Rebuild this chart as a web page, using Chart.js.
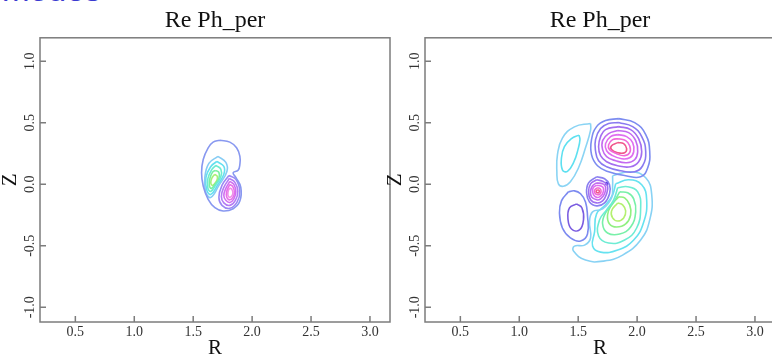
<!DOCTYPE html>
<html>
<head>
<meta charset="utf-8">
<script src="https://cdn.jsdelivr.net/npm/chart.js@4.4.0/dist/chart.umd.min.js"></script>
<style>
  body { margin: 0; width: 772px; height: 358px; overflow: hidden; background: #fff; position: relative; }
  .panel { position: absolute; top: 0; width: 392px; height: 358px; }
  #left { left: 0; }
  #right { left: 385px; }
  #banner { position: absolute; left: 2px; top: -26px; font: 33px "Liberation Sans", Arial, sans-serif; line-height: 32px; color: #3a3ad0; white-space: nowrap; }
</style>
</head>
<body>
<div id="banner">modes</div>
<div class="panel" id="left"><canvas id="leftChart" width="392" height="358"></canvas></div>
<div class="panel" id="right"><canvas id="rightChart" width="392" height="358"></canvas></div>
<script>
// axis ticks
const rTicks = [0.5, 1.0, 1.5, 2.0, 2.5, 3.0];
const zTicks = [-1.0, -0.5, 0.0, 0.5, 1.0];

// ---- left panel contours, [R, Z] ----
const leftOuter = [[1.726,0.358],[1.811,0.342],[1.868,0.296],[1.896,0.228],[1.896,0.161],[1.881,0.114],[1.839,0.093],[1.862,0.055],[1.904,-0.026],[1.896,-0.137],[1.839,-0.199],[1.754,-0.218],[1.684,-0.191],[1.627,-0.123],[1.585,-0.015],[1.571,0.093],[1.585,0.201],[1.627,0.296],[1.669,0.342]];
const leftPos1 = [[1.710,0.226],[1.777,0.177],[1.786,0.104],[1.718,-0.010],[1.650,-0.107],[1.608,-0.067],[1.599,0.055],[1.633,0.169]];
const leftPos2 = [[1.701,0.185],[1.760,0.144],[1.760,0.080],[1.710,-0.002],[1.650,-0.083],[1.616,-0.050],[1.608,0.055],[1.650,0.144]];
const leftPos3 = [[1.693,0.153],[1.735,0.120],[1.735,0.063],[1.693,-0.002],[1.650,-0.058],[1.625,-0.034],[1.625,0.047],[1.659,0.120]];
const leftPos4 = [[1.688,0.112],[1.718,0.096],[1.718,0.047],[1.684,-0.002],[1.654,-0.034],[1.637,-0.010],[1.642,0.047],[1.663,0.096]];
const leftPos5 = [[1.684,0.080],[1.705,0.063],[1.701,0.031],[1.680,0.002],[1.663,-0.010],[1.650,0.006],[1.654,0.039],[1.667,0.063]];
const leftNeg1 = [[1.803,0.071],[1.862,0.039],[1.896,-0.058],[1.871,-0.148],[1.811,-0.196],[1.744,-0.172],[1.718,-0.107],[1.744,-0.010]];
const leftNeg2 = [[1.807,0.047],[1.854,0.015],[1.879,-0.058],[1.858,-0.131],[1.811,-0.172],[1.760,-0.152],[1.739,-0.099],[1.760,-0.026]];
const leftNeg3 = [[1.811,0.023],[1.845,-0.002],[1.862,-0.062],[1.845,-0.119],[1.811,-0.148],[1.777,-0.131],[1.760,-0.091],[1.777,-0.034]];
const leftNeg4 = [[1.811,-0.002],[1.837,-0.022],[1.850,-0.067],[1.837,-0.107],[1.811,-0.127],[1.790,-0.115],[1.781,-0.083],[1.790,-0.042]];
const leftNeg5 = [[1.811,-0.030],[1.828,-0.042],[1.837,-0.071],[1.828,-0.095],[1.811,-0.107],[1.799,-0.099],[1.794,-0.079],[1.799,-0.050]];

// ---- right panel contours ----
const rightLT1 = [[1.605,0.494],[1.468,0.466],[1.366,0.375],[1.324,0.240],[1.319,0.101],[1.332,0.003],[1.375,-0.017],[1.434,0.020],[1.503,0.134],[1.562,0.297],[1.605,0.440]];
const rightLT2 = [[1.507,0.399],[1.443,0.370],[1.383,0.305],[1.358,0.215],[1.366,0.117],[1.409,0.105],[1.464,0.183],[1.498,0.281],[1.515,0.362]];
const rightBL1 = [[1.417,-0.062],[1.358,-0.135],[1.341,-0.233],[1.366,-0.356],[1.434,-0.437],[1.520,-0.462],[1.579,-0.405],[1.579,-0.258],[1.562,-0.144],[1.520,-0.078],[1.468,-0.054]];
const rightBL2 = [[1.486,-0.160],[1.426,-0.193],[1.413,-0.282],[1.443,-0.364],[1.511,-0.372],[1.545,-0.290],[1.532,-0.193]];
const rightTop1 = [[1.843,0.533],[1.979,0.501],[2.073,0.403],[2.107,0.264],[2.090,0.134],[2.030,0.060],[1.903,0.069],[1.758,0.101],[1.664,0.150],[1.613,0.240],[1.613,0.362],[1.656,0.468],[1.732,0.517]];
const rightTop2 = [[1.843,0.501],[1.962,0.468],[2.039,0.387],[2.073,0.264],[2.047,0.150],[1.979,0.101],[1.860,0.109],[1.741,0.142],[1.673,0.191],[1.647,0.272],[1.647,0.362],[1.690,0.452],[1.758,0.493]];
const rightTop3 = [[1.843,0.468],[1.945,0.444],[2.013,0.370],[2.039,0.264],[2.013,0.183],[1.945,0.142],[1.835,0.150],[1.741,0.183],[1.690,0.232],[1.673,0.305],[1.690,0.387],[1.732,0.444]];
const rightTop4 = [[1.835,0.436],[1.928,0.419],[1.988,0.354],[2.005,0.264],[1.979,0.199],[1.911,0.175],[1.818,0.191],[1.741,0.224],[1.707,0.281],[1.707,0.354],[1.758,0.411]];
const rightTop5 = [[1.835,0.403],[1.911,0.387],[1.962,0.338],[1.971,0.264],[1.937,0.215],[1.869,0.207],[1.792,0.232],[1.741,0.272],[1.732,0.330],[1.775,0.387]];
const rightTop6 = [[1.843,0.370],[1.903,0.354],[1.937,0.313],[1.937,0.256],[1.894,0.232],[1.826,0.248],[1.766,0.281],[1.758,0.321],[1.792,0.362]];
const rightTop7 = [[1.835,0.338],[1.886,0.330],[1.911,0.289],[1.894,0.256],[1.835,0.256],[1.783,0.281],[1.783,0.313]];
const rightMid1 = [[1.656,0.060],[1.724,0.044],[1.766,-0.005],[1.766,-0.078],[1.724,-0.152],[1.656,-0.176],[1.596,-0.144],[1.571,-0.070],[1.588,0.011]];
const rightMid2 = [[1.656,0.036],[1.715,0.020],[1.749,-0.013],[1.741,-0.078],[1.707,-0.135],[1.656,-0.152],[1.605,-0.127],[1.588,-0.062],[1.605,0.003]];
const rightMid3 = [[1.656,0.011],[1.707,0.003],[1.732,-0.021],[1.724,-0.078],[1.690,-0.119],[1.656,-0.127],[1.613,-0.103],[1.605,-0.054],[1.622,-0.013]];
const rightMid4 = [[1.656,-0.009],[1.698,-0.017],[1.715,-0.037],[1.707,-0.078],[1.681,-0.103],[1.656,-0.107],[1.630,-0.086],[1.622,-0.054],[1.630,-0.025]];
const rightMid5 = [[1.660,-0.029],[1.686,-0.037],[1.694,-0.058],[1.686,-0.078],[1.664,-0.086],[1.643,-0.074],[1.639,-0.050]];
const rightMid6 = [[1.664,-0.046],[1.677,-0.050],[1.677,-0.066],[1.664,-0.070],[1.652,-0.062],[1.656,-0.050]];
const rightDot = [[1.732,0.015],[1.749,0.011],[1.749,-0.001],[1.737,-0.001]];
const rightGrn0 = [[1.792,0.069],[1.945,0.101],[2.073,0.052],[2.124,-0.086],[2.107,-0.290],[2.030,-0.454],[1.877,-0.576],[1.715,-0.625],[1.562,-0.617],[1.460,-0.543],[1.468,-0.503],[1.554,-0.495],[1.605,-0.437],[1.596,-0.307],[1.622,-0.225],[1.707,-0.201],[1.783,-0.111],[1.792,-0.013]];
const rightGrn1 = [[1.818,0.003],[1.928,0.036],[2.039,-0.005],[2.081,-0.127],[2.056,-0.307],[1.971,-0.454],[1.835,-0.535],[1.690,-0.552],[1.622,-0.503],[1.639,-0.388],[1.656,-0.241],[1.732,-0.168],[1.792,-0.086]];
const rightGrn2 = [[1.835,-0.029],[1.920,-0.021],[2.005,-0.062],[2.030,-0.193],[1.996,-0.356],[1.894,-0.454],[1.758,-0.478],[1.673,-0.421],[1.681,-0.290],[1.741,-0.209],[1.801,-0.127]];
const rightGrn3 = [[1.852,-0.062],[1.920,-0.070],[1.971,-0.119],[1.988,-0.225],[1.945,-0.348],[1.852,-0.405],[1.749,-0.397],[1.707,-0.323],[1.732,-0.233],[1.792,-0.160]];
const rightGrn4 = [[1.843,-0.103],[1.894,-0.111],[1.937,-0.168],[1.945,-0.250],[1.903,-0.323],[1.826,-0.348],[1.766,-0.323],[1.749,-0.250],[1.783,-0.168]];
const rightGrn5 = [[1.835,-0.152],[1.877,-0.168],[1.903,-0.217],[1.886,-0.274],[1.835,-0.299],[1.792,-0.274],[1.783,-0.217]];

const leftLines = [
  [leftOuter, '#8898f0'],
  [leftPos1, '#86ccf4'], [leftPos2, '#64e0f0'], [leftPos3, '#6eecd0'], [leftPos4, '#78f0a0'], [leftPos5, '#a8f078'],
  [leftNeg1, '#9c88f4'], [leftNeg2, '#b47cf4'], [leftNeg3, '#d070f0'], [leftNeg4, '#e870e8'], [leftNeg5, '#f090e8']
];
const rightLines = [
  [rightLT1, '#8ad4f4'], [rightLT2, '#5ee0f0'],
  [rightBL1, '#7c8af0'], [rightBL2, '#7a5ce0'],
  [rightTop1, '#7c8cf0'], [rightTop2, '#8a7af0'], [rightTop3, '#a46ef0'], [rightTop4, '#c46af0'],
  [rightTop5, '#e06ef0'], [rightTop6, '#f06ad8'], [rightTop7, '#f0588c'],
  [rightMid1, '#8a80f0'], [rightMid2, '#a070f0'], [rightMid3, '#c06cf0'], [rightMid4, '#e06cf0'],
  [rightMid5, '#f06cd0'], [rightMid6, '#f0588c'], [rightDot, '#5a3ce0'],
  [rightGrn0, '#88d2f4'], [rightGrn1, '#66e2f0'], [rightGrn2, '#6eecd4'], [rightGrn3, '#78f0a8'],
  [rightGrn4, '#90f080'], [rightGrn5, '#b4f070']
];

Chart.defaults.font.family = "'Liberation Serif', 'Times New Roman', serif";

// closed contour -> line dataset
function toDataset(pts, color) {
  const data = pts.map(p => ({ x: p[0], y: p[1] }));
  data.push({ x: pts[0][0], y: pts[0][1] });
  return {
    data: data,
    borderColor: color,
    borderWidth: 1.6,
    showLine: true,
    pointRadius: 0,
    tension: 0.45,
    fill: false,
  };
}

// box around the plot + inward tick marks
const framePlugin = {
  id: "frame",
  afterDatasetsDraw(chart) {
    const { ctx, chartArea: a, scales } = chart;
    ctx.save();
    ctx.strokeStyle = "#7c7c7c";
    ctx.lineWidth = 1.5;
    ctx.strokeRect(a.left, a.top, a.right - a.left, a.bottom - a.top);
    ctx.beginPath();
    scales.x.ticks.forEach(t => {
      const px = scales.x.getPixelForValue(t.value);
      ctx.moveTo(px, a.bottom);
      ctx.lineTo(px, a.bottom - 6);
    });
    scales.y.ticks.forEach(t => {
      const py = scales.y.getPixelForValue(t.value);
      ctx.moveTo(a.left, py);
      ctx.lineTo(a.left + 6, py);
    });
    ctx.stroke();
    ctx.restore();
  },
};

function createChart(id, lines) {
  const ctx = document.getElementById(id).getContext("2d");
  return new Chart(ctx, {
    type: "scatter",
    data: { datasets: lines.map(l => toDataset(l[0], l[1])) },
    options: {
      responsive: false,
      devicePixelRatio: 1,
      animation: false,
      events: [],
      layout: { padding: { left: 0, right: 2, top: 0, bottom: 0 } },
      plugins: {
        legend: { display: false },
        tooltip: { enabled: false },
        title: {
          display: true,
          text: "Re Ph_per",
          fullSize: false,
          color: "#111",
          font: { size: 24, weight: "normal", lineHeight: 1.2 },
          padding: { top: 6, bottom: 3 },
        },
      },
      scales: {
        x: {
          type: "linear",
          min: 0.2,
          max: 3.17,
          afterBuildTicks: s => { s.ticks = rTicks.map(v => ({ value: v })); },
          afterFit: s => { s.height = 36; },
          grid: { display: false, drawTicks: false },
          border: { display: false },
          ticks: {
            color: "#333",
            font: { size: 14 },
            padding: 2,
            maxRotation: 0,
            autoSkip: false,
            callback: v => v.toFixed(1),
          },
          title: {
            display: true,
            text: "R",
            color: "#111",
            font: { size: 21, lineHeight: 1 },
            padding: { top: 0, bottom: -1 },
          },
        },
        y: {
          type: "linear",
          min: -1.12,
          max: 1.19,
          afterBuildTicks: s => { s.ticks = zTicks.map(v => ({ value: v })); },
          afterFit: s => { s.width = 40; },
          grid: { display: false, drawTicks: false },
          border: { display: false },
          ticks: {
            color: "#333",
            font: { size: 14 },
            padding: -1,
            minRotation: 90,
            maxRotation: 90,
            crossAlign: "center",
            autoSkip: false,
            callback: v => v.toFixed(1),
          },
          title: {
            display: true,
            text: "Z",
            color: "#111",
            font: { size: 21, lineHeight: 1 },
            padding: { top: 0, bottom: 0 },
          },
        },
      },
    },
    plugins: [framePlugin],
  });
}

var leftChart = createChart("leftChart", leftLines);
var rightChart = createChart("rightChart", rightLines);
</script>
</body>
</html>
